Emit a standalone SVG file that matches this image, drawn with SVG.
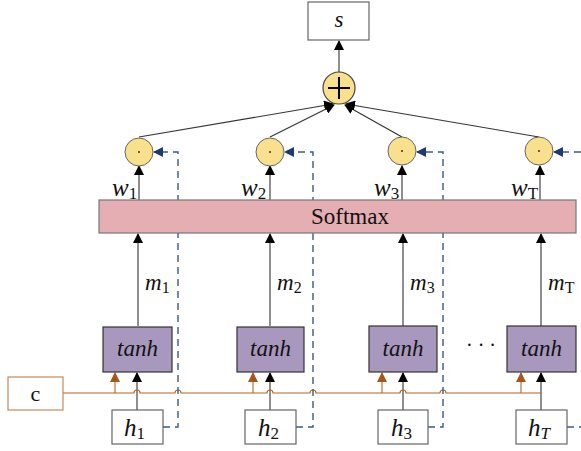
<svg xmlns="http://www.w3.org/2000/svg" width="581" height="451" viewBox="0 0 581 451" font-family="'Liberation Serif','DejaVu Serif','Times New Roman',serif">
<style>
text{fill:#111}
.it{font-style:italic}
.box{fill:#fff;stroke:#666;stroke-width:1.2}
.tanh{fill:#a898bd;stroke:#333;stroke-width:1.2}
.dotc{fill:#f8e08c;stroke:#666;stroke-width:1}
.ln{stroke:#333;stroke-width:1.1;fill:none}
.br{stroke:#b5651d;stroke-width:1.1;fill:none}
.ds{stroke:#3b5a82;stroke-width:1.4;fill:none;stroke-dasharray:7 5}
</style>
<defs>
<marker id="ab" markerUnits="userSpaceOnUse" markerWidth="10" markerHeight="10" refX="9" refY="5" orient="auto"><path d="M0,0 L10,5 L0,10 Z" fill="#000"/></marker>
<marker id="abr" markerUnits="userSpaceOnUse" markerWidth="10" markerHeight="10" refX="9" refY="5" orient="auto"><path d="M0,0 L10,5 L0,10 Z" fill="#a8541a"/></marker>
<marker id="abl" markerUnits="userSpaceOnUse" markerWidth="10" markerHeight="10" refX="9" refY="5" orient="auto"><path d="M0,0 L10,5 L0,10 Z" fill="#1c3a70"/></marker>
</defs>

<g id="connectors">
<line class="ln" x1="339" y1="72" x2="339" y2="41" marker-end="url(#ab)"/>
<line class="ln" x1="139" y1="137" x2="333" y2="104" marker-end="url(#ab)"/>
<line class="ln" x1="270" y1="137" x2="334" y2="105" marker-end="url(#ab)"/>
<line class="ln" x1="402" y1="137" x2="345" y2="105" marker-end="url(#ab)"/>
<line class="ln" x1="539" y1="137" x2="346" y2="104" marker-end="url(#ab)"/>
<line class="ln" x1="139" y1="200" x2="139" y2="166" marker-end="url(#ab)"/>
<line class="ln" x1="270" y1="200" x2="270" y2="166" marker-end="url(#ab)"/>
<line class="ln" x1="402" y1="200" x2="402" y2="166" marker-end="url(#ab)"/>
<line class="ln" x1="540" y1="200" x2="540" y2="166" marker-end="url(#ab)"/>
<line class="ln" x1="138" y1="326" x2="138" y2="234" marker-end="url(#ab)"/>
<line class="ln" x1="270" y1="326" x2="270" y2="234" marker-end="url(#ab)"/>
<line class="ln" x1="403" y1="326" x2="403" y2="234" marker-end="url(#ab)"/>
<line class="ln" x1="541" y1="326" x2="541" y2="234" marker-end="url(#ab)"/>
<line class="ln" x1="137" y1="410" x2="137" y2="373" marker-end="url(#ab)"/>
<line class="ln" x1="270" y1="410" x2="270" y2="373" marker-end="url(#ab)"/>
<line class="ln" x1="403" y1="410" x2="403" y2="373" marker-end="url(#ab)"/>
<line class="ln" x1="541" y1="410" x2="541" y2="373" marker-end="url(#ab)"/>
<path class="br" d="M63,393 H134 a3,3 0 0 1 6,0 H175 a3,3 0 0 1 6,0 H267 a3,3 0 0 1 6,0 H310 a3,3 0 0 1 6,0 H400 a3,3 0 0 1 6,0 H440 a3,3 0 0 1 6,0 H541"/>
<line class="br" x1="115" y1="393" x2="115" y2="373" marker-end="url(#abr)"/>
<line class="br" x1="253" y1="393" x2="253" y2="373" marker-end="url(#abr)"/>
<line class="br" x1="382" y1="393" x2="382" y2="373" marker-end="url(#abr)"/>
<line class="br" x1="521" y1="393" x2="521" y2="373" marker-end="url(#abr)"/>
<path class="ds" d="M163,427 H178 V152 H154" marker-end="url(#abl)"/>
<path class="ds" d="M296,427 H313 V152 H285" marker-end="url(#abl)"/>
<path class="ds" d="M428,427 H443 V152 H417" marker-end="url(#abl)"/>
<path class="ds" d="M567,427 H581"/>
<path class="ds" d="M581,152 H554" marker-end="url(#abl)"/>
</g>

<g id="s"><rect class="box" x="308" y="2" width="61" height="38"/><text class="it" x="339" y="27" font-size="23" text-anchor="middle">s</text></g>

<g id="plus"><circle cx="339" cy="88" r="16" fill="#f8e08c" stroke="#444" stroke-width="1.2"/><path d="M328,88 H350 M339,77 V99" stroke="#000" stroke-width="2"/></g>

<g id="dot1"><circle class="dotc" cx="139" cy="152" r="14"/><circle cx="139" cy="152" r="1" fill="#333"/></g>
<g id="dot2"><circle class="dotc" cx="270" cy="152" r="14"/><circle cx="270" cy="152" r="1" fill="#333"/></g>
<g id="dot3"><circle class="dotc" cx="402" cy="151" r="14"/><circle cx="402" cy="151" r="1" fill="#333"/></g>
<g id="dotT"><circle class="dotc" cx="539" cy="151" r="14"/><circle cx="539" cy="151" r="1" fill="#333"/></g>

<g id="wlabels" font-size="25">
<text x="112" y="196"><tspan class="it">w</tspan><tspan font-size="17" dy="3">1</tspan></text>
<text x="241" y="196"><tspan class="it">w</tspan><tspan font-size="17" dy="3">2</tspan></text>
<text x="374" y="196"><tspan class="it">w</tspan><tspan font-size="17" dy="3">3</tspan></text>
<text x="511" y="196"><tspan class="it">w</tspan><tspan font-size="17" dy="3">T</tspan></text>
</g>

<g id="softmax"><rect x="99" y="200" width="477" height="33" fill="#e4aeb2" stroke="#777" stroke-width="1.2"/><text x="350" y="224" font-size="23" text-anchor="middle">Softmax</text></g>

<g id="mlabels" font-size="23">
<text x="145" y="290"><tspan class="it">m</tspan><tspan font-size="16" dy="3">1</tspan></text>
<text x="277" y="290"><tspan class="it">m</tspan><tspan font-size="16" dy="3">2</tspan></text>
<text x="410" y="290"><tspan class="it">m</tspan><tspan font-size="16" dy="3">3</tspan></text>
<text x="548" y="290"><tspan class="it">m</tspan><tspan font-size="16" dy="3">T</tspan></text>
</g>

<g id="tanh1"><rect class="tanh" x="103" y="327" width="69" height="45"/><text class="it" x="137.5" y="356" font-size="23" text-anchor="middle">tanh</text></g>
<g id="tanh2"><rect class="tanh" x="237" y="327" width="67" height="45"/><text class="it" x="270.5" y="356" font-size="23" text-anchor="middle">tanh</text></g>
<g id="tanh3"><rect class="tanh" x="369" y="326" width="68" height="46"/><text class="it" x="403" y="356" font-size="23" text-anchor="middle">tanh</text></g>
<g id="tanhT"><rect class="tanh" x="507" y="326" width="69" height="46"/><text class="it" x="541.5" y="356" font-size="23" text-anchor="middle">tanh</text></g>
<text x="481" y="352" font-size="20" text-anchor="middle">· · ·</text>

<g id="c"><rect x="8" y="377" width="55" height="33" fill="#fff" stroke="#c8895a" stroke-width="1.2"/><text x="35.5" y="401" font-size="22" text-anchor="middle">c</text></g>

<g id="h1"><rect class="box" x="112" y="410" width="51" height="34"/><text x="124" y="436" font-size="25"><tspan class="it">h</tspan><tspan font-size="17" dy="3">1</tspan></text></g>
<g id="h2"><rect class="box" x="245" y="410" width="51" height="34"/><text x="258" y="436" font-size="25"><tspan class="it">h</tspan><tspan font-size="17" dy="3">2</tspan></text></g>
<g id="h3"><rect class="box" x="378" y="410" width="50" height="34"/><text x="391" y="436" font-size="25"><tspan class="it">h</tspan><tspan font-size="17" dy="3">3</tspan></text></g>
<g id="hT"><rect class="box" x="516" y="410" width="51" height="34"/><text x="528" y="436" font-size="25"><tspan class="it">h</tspan><tspan class="it" font-size="17" dy="3">T</tspan></text></g>
</svg>
